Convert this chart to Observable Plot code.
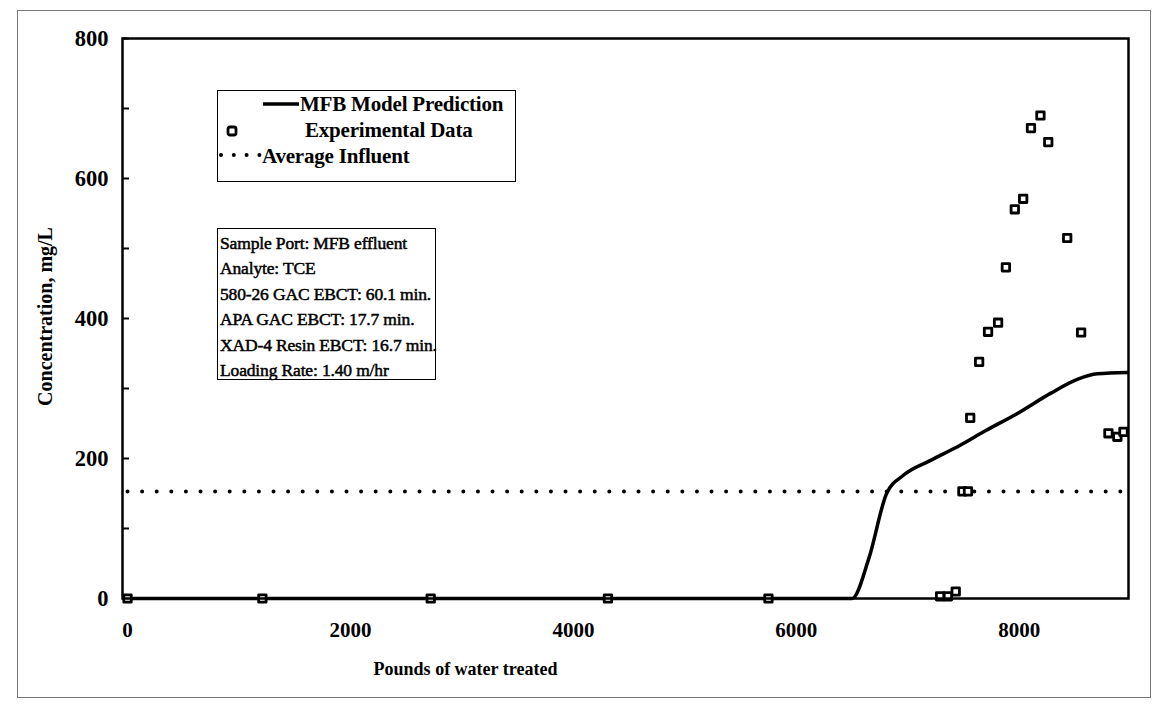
<!DOCTYPE html>
<html><head><meta charset="utf-8">
<script src="https://cdn.jsdelivr.net/npm/d3@7"></script>
<script src="https://cdn.jsdelivr.net/npm/@observablehq/plot@0.6"></script>
<style>
body{margin:0;background:#fff;}
#wrap{position:relative;width:1156px;height:711px;overflow:hidden;background:#fff;font-family:"Liberation Serif",serif;}
#wrap svg.plot{position:absolute;left:0;top:0;}
.border{position:absolute;left:17px;top:10px;width:1132px;height:686px;border:1px solid #777;}
.legend{position:absolute;left:217px;top:90px;width:299px;height:92px;border:1.5px solid #000;box-sizing:border-box;}
.legend .t{position:absolute;font-weight:bold;font-size:21px;line-height:20px;white-space:nowrap;letter-spacing:-0.2px;}
.legend svg{position:absolute;}
.info{position:absolute;left:217px;top:228px;width:219px;height:152px;border:1.5px solid #000;box-sizing:border-box;}
.info div{position:absolute;left:2px;font-size:17.5px;line-height:18px;white-space:nowrap;-webkit-text-stroke:0.5px #000;letter-spacing:-0.15px;}
</style></head><body><div id="wrap"></div>
<script>
// Experimental data (pounds of water treated, concentration mg/L)
const expX = [0, 1210, 2720, 4310, 5750, 7290, 7360, 7430, 7490, 7540, 7560, 7640, 7720, 7810, 7880, 7960, 8035, 8105, 8190, 8260, 8430, 8555, 8800, 8880, 8935];
const expY = [0, 0, 0, 0, 0, 3, 3, 10, 153, 153, 258, 338, 381, 394, 473, 556, 571, 672, 690, 652, 515, 380, 236, 231, 238];
// MFB model prediction
const modelX = [0, 6500, 6650, 6810, 6960, 7200, 7470, 7700, 7980, 8280, 8520, 8700, 8970];
const modelY = [0, 0, 57, 150, 176, 197, 219, 240, 264, 293, 313, 321, 323];
// Average influent
const influentX = [0, 8970];
const influentY = [153, 153];
const yTicks = [0, 200, 400, 600, 800];
const yMinor = [100, 300, 500, 700];
const xTicks = [0, 2000, 4000, 6000, 8000];
const xTitle = "Pounds of water treated";
const yTitle = "Concentration, mg/L";
const legendLabels = ["MFB Model Prediction", "Experimental Data", "Average Influent"];
const infoLines = ["Sample Port: MFB effluent", "Analyte: TCE", "580-26 GAC EBCT: 60.1 min.", "APA GAC EBCT: 17.7 min.", "XAD-4 Resin EBCT: 16.7 min.", "Loading Rate: 1.40 m/hr"];

const exp = expX.map((x, i) => ({x, y: expY[i]}));
const model = modelX.map((x, i) => ({x, y: modelY[i]}));
const influent = influentX.map((x, i) => ({x, y: influentY[i]}));

const plot = Plot.plot({
  width: 1156, height: 711,
  marginLeft: 122, marginRight: 28, marginTop: 38, marginBottom: 113,
  x: {domain: [-45, 8980]},
  y: {domain: [0, 800]},
  style: {fontFamily: "Liberation Serif", background: "white", color: "black"},
  marks: [
    Plot.axisY({ticks: yTicks, tickSize: 0, tickPadding: 14, fontSize: 22.5, fontWeight: "bold", label: null}),
    Plot.axisY({ticks: yTicks.concat(yMinor), tickSize: -7, strokeWidth: 2, tickFormat: () => "", label: null}),
    Plot.axisX({ticks: xTicks, tickSize: 0, tickPadding: 24, fontSize: 21, fontWeight: "bold", tickFormat: d3.format("d"), label: null}),
    Plot.text([yTitle], {text: d => d, frameAnchor: "left", textAnchor: "middle", rotate: -90, dx: -77, dy: -2, fontSize: 20, fontWeight: "bold", letterSpacing: 3}),
    Plot.text([xTitle], {text: d => d, frameAnchor: "bottom", textAnchor: "middle", dx: -160, dy: 76, fontSize: 18, fontWeight: "bold"}),
    Plot.line(influent, {x: "x", y: "y", stroke: "black", strokeWidth: 4, strokeDasharray: "0 14.6", strokeLinecap: "round"}),
    Plot.line(model, {x: "x", y: "y", stroke: "black", strokeWidth: 3.5, strokeLinejoin: "round", curve: "monotone-x"}),
    Plot.dot(exp, {x: "x", y: "y", symbol: "square", r: 4.2, stroke: "black", strokeWidth: 2.8, fill: "white", strokeLinejoin: "round"}),
    Plot.frame({stroke: "black", strokeWidth: 2.5})
  ]
});
plot.classList.add("plot");
const wrap = document.getElementById("wrap");
wrap.appendChild(plot);

const border = document.createElement("div");
border.className = "border";
wrap.appendChild(border);

// Legend
const lg = document.createElement("div");
lg.className = "legend";
lg.innerHTML = `
<svg style="left:44px;top:8px" width="38" height="10"><line x1="1" y1="5" x2="37" y2="5" stroke="black" stroke-width="3.5"/></svg>
<div class="t" style="left:82px;top:3px">${legendLabels[0]}</div>
<svg style="left:7px;top:33px" width="14" height="14"><rect x="3" y="3" width="8" height="8" rx="2" fill="white" stroke="black" stroke-width="2.8"/></svg>
<div class="t" style="left:87px;top:29px">${legendLabels[1]}</div>
<svg style="left:0px;top:59px" width="44" height="10"><line x1="3" y1="5" x2="42" y2="5" stroke="black" stroke-width="4" stroke-dasharray="0 12.8" stroke-linecap="round"/></svg>
<div class="t" style="left:44px;top:55px">${legendLabels[2]}</div>`;
wrap.appendChild(lg);

// Info box
const info = document.createElement("div");
info.className = "info";
info.innerHTML = infoLines.map((s, i) => `<div style="top:${5 + i * 25.4}px">${s}</div>`).join("");
wrap.appendChild(info);
</script>
</body></html>
